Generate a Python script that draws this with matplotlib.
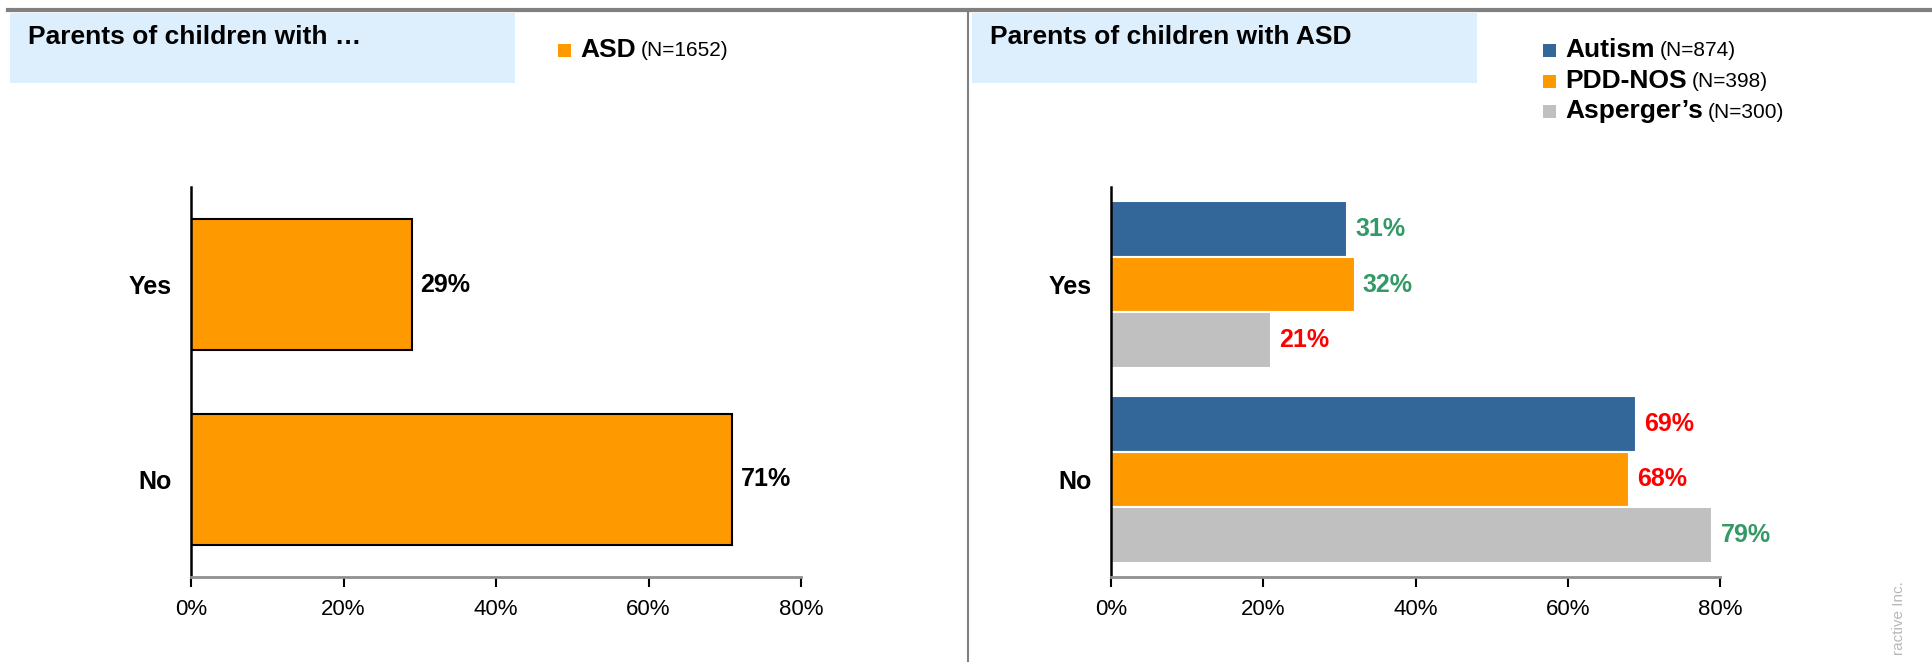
import numpy as np
import matplotlib.pyplot as plt
from matplotlib.patches import Rectangle
from matplotlib.lines import Line2D

plt.rcParams['font.family'] = ['Liberation Sans', 'DejaVu Sans']

# answers on the y axis, top to bottom
answers = ['Yes', 'No']

# left panel: all ASD parents
asd_label = 'ASD'
asd_n = '(N=1652)'
asd_pct = [29, 71]

# right panel: split by diagnosis
groups = ['Autism', 'PDD-NOS', 'Asperger\u2019s']
group_n = ['(N=874)', '(N=398)', '(N=300)']
group_pct = {
    'Autism': [31, 69],
    'PDD-NOS': [32, 68],
    'Asperger\u2019s': [21, 79],
}
# green = above overall, red = below
group_label_colors = {
    'Autism': ['#339966', '#FF0000'],
    'PDD-NOS': ['#339966', '#FF0000'],
    'Asperger\u2019s': ['#FF0000', '#339966'],
}

ORANGE = '#FF9900'
BLUE = '#336699'
GREY = '#C0C0C0'
group_colors = [BLUE, ORANGE, GREY]
HEADER_BG = '#DDEEFC'

W, H = 1933, 662
fig = plt.figure(figsize=(W / 100, H / 100), dpi=100)


def fx(px):
    return px / W


def fy(py):
    return 1 - py / H


def style_axes(ax):
    ax.set_xlim(0, 80)
    ax.set_ylim(1.5, -0.5)
    ax.set_xticks([0, 20, 40, 60, 80])
    ax.set_xticklabels([f'{t}%' for t in [0, 20, 40, 60, 80]], fontsize=16)
    ax.set_yticks(range(len(answers)))
    ax.set_yticklabels(answers, fontsize=18, fontweight='bold')
    for s in ['top', 'right']:
        ax.spines[s].set_visible(False)
    ax.spines['left'].set_color('black')
    ax.spines['left'].set_linewidth(1.8)
    ax.spines['bottom'].set_color('#909090')
    ax.spines['bottom'].set_linewidth(2)
    ax.tick_params(axis='y', length=0, pad=14)
    ax.tick_params(axis='x', length=7, width=1.5, color='black', direction='out', pad=9)


def header(x0, x1, title):
    fig.patches.append(Rectangle((fx(x0), fy(83)), fx(x1 - x0), fy(13) - fy(83),
                                 transform=fig.transFigure, facecolor=HEADER_BG,
                                 edgecolor='none', zorder=0))
    fig.text(fx(x0 + 18), fy(37), title, fontsize=19, fontweight='bold',
             va='center', ha='left')


def legend_with_n(x, y, color, name, n):
    fig.patches.append(Rectangle((fx(x), fy(y + 7)), fx(13), fy(y - 6) - fy(y + 7),
                                 transform=fig.transFigure, facecolor=color,
                                 edgecolor='none'))
    t = fig.text(fx(x + 22), fy(y), name, fontsize=19, fontweight='bold',
                 va='center', ha='left')
    fig.canvas.draw()
    bb = t.get_window_extent()
    fig.text(bb.x1 / W + fx(5), fy(y + 1), n, fontsize=15, va='center', ha='left')


# left panel
axL = fig.add_axes([fx(191), fy(577), fx(801 - 191), fy(187) - fy(577)])
y = np.arange(len(answers))
bars = axL.barh(y, asd_pct, height=0.67, color=ORANGE, edgecolor='black', linewidth=1.5)
for b, v in zip(bars, asd_pct):
    axL.annotate(f'{v}%', (b.get_width(), b.get_y() + b.get_height() / 2),
                 xytext=(6, 0), textcoords='offset points', va='center', ha='left',
                 fontsize=18, fontweight='bold')
style_axes(axL)

# right panel
axR = fig.add_axes([fx(1111), fy(577), fx(1720 - 1111), fy(187) - fy(577)])
bh = 0.285
for i, g in enumerate(groups):
    offs = (i - 1) * bh
    bars = axR.barh(y + offs, group_pct[g], height=bh, color=group_colors[i],
                    edgecolor='white', linewidth=1.5)
    for b, v, c in zip(bars, group_pct[g], group_label_colors[g]):
        axR.annotate(f'{v}%', (b.get_width(), b.get_y() + b.get_height() / 2),
                     xytext=(6, 0), textcoords='offset points', va='center', ha='left',
                     fontsize=18, fontweight='bold', color=c)
style_axes(axR)

# headers and legends
header(10, 515, 'Parents of children with \u2026')
header(972, 1477, 'Parents of children with ASD')

legend_with_n(558, 50, ORANGE, asd_label, asd_n)
for i, (g, n) in enumerate(zip(groups, group_n)):
    legend_with_n(1543, 50 + i * 30.5, group_colors[i], g, n)

# frame lines: top rule and panel divider
fig.add_artist(Line2D([fx(8), 1], [fy(10), fy(10)], color='#808080', linewidth=3,
                      transform=fig.transFigure))
fig.add_artist(Line2D([fx(968), fx(968)], [fy(10), 0], color='#808080', linewidth=1.5,
                      transform=fig.transFigure))

# clipped copyright note at the right edge
fig.text(fx(1899), fy(655), 'ractive Inc.', rotation=90, fontsize=11,
         color='#B8B8B8', ha='center', va='bottom')

fig.savefig('out.png', dpi=100)
